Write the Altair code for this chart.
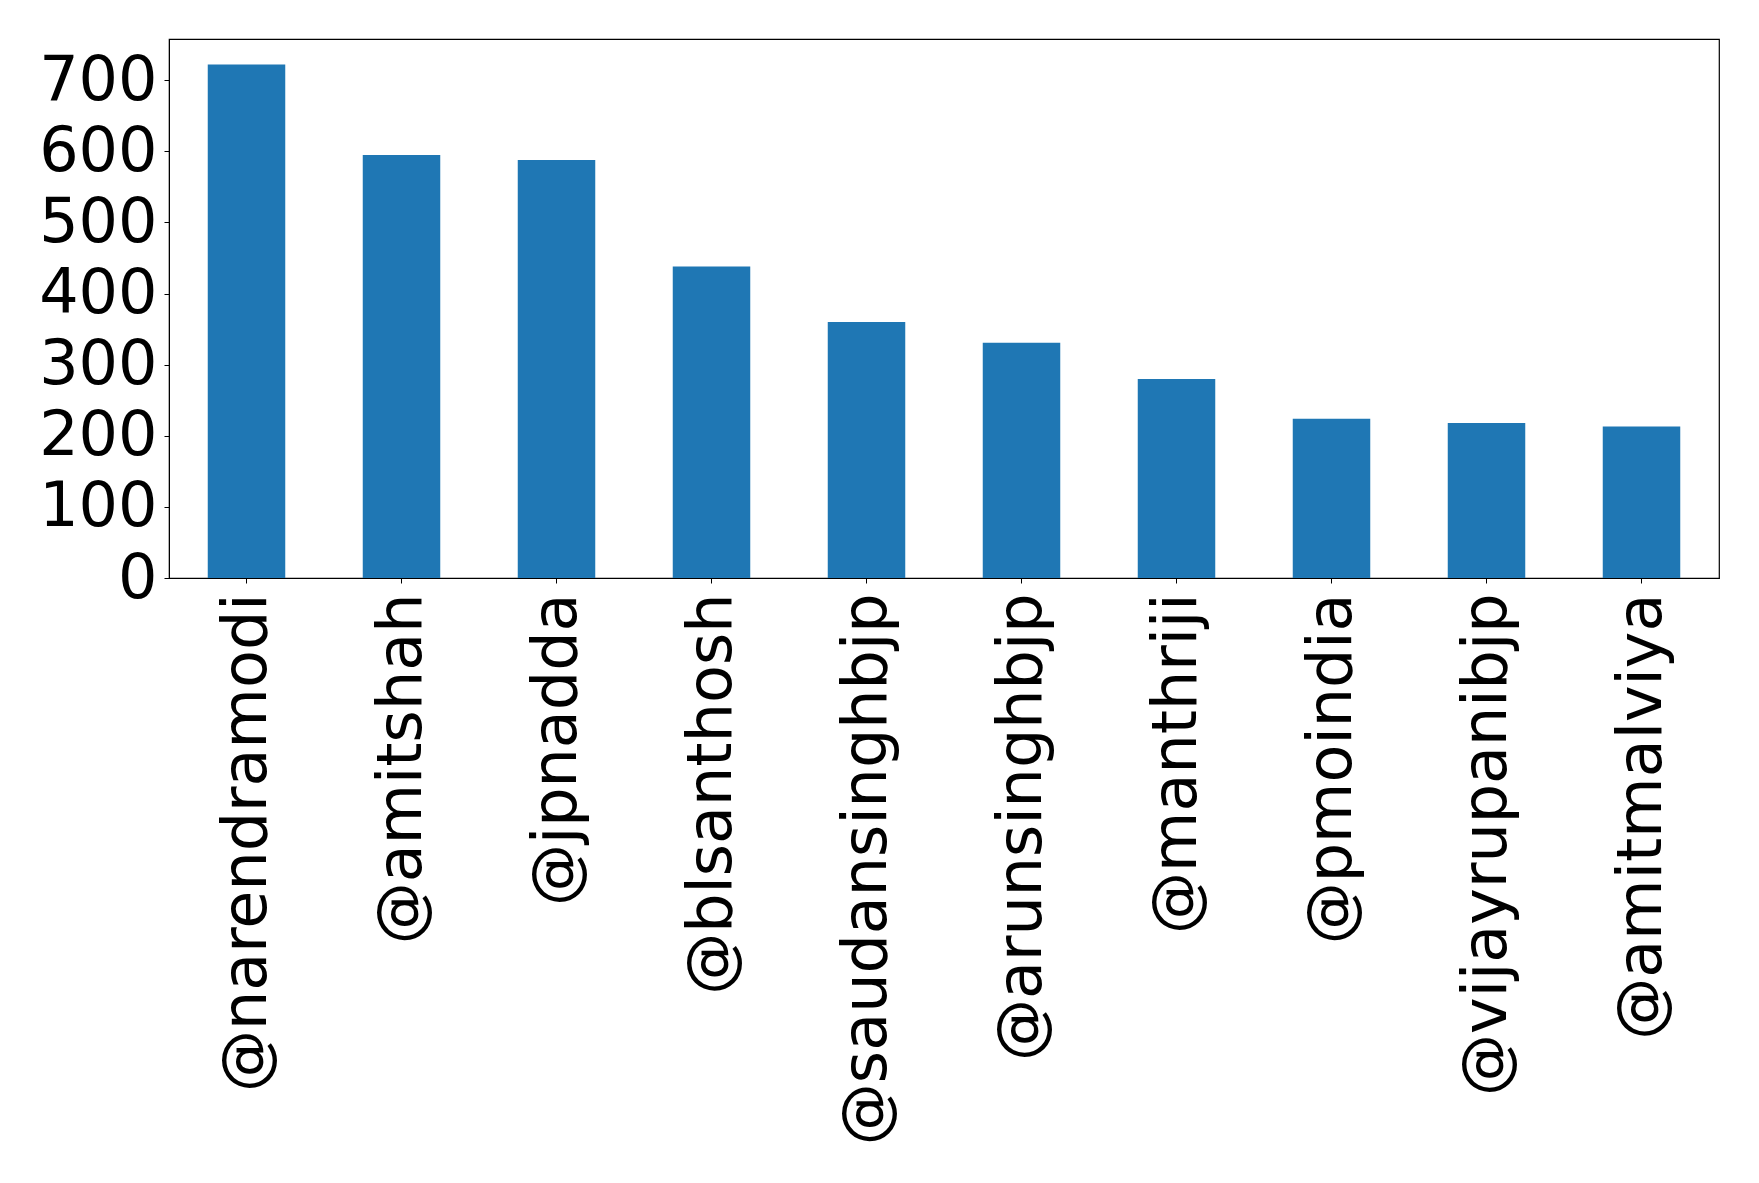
import altair as alt
import pandas as pd

handles = ["@narendramodi", "@amitshah", "@jpnadda", "@blsanthosh", "@saudansinghbjp",
           "@arunsinghbjp", "@manthriji", "@pmoindia", "@vijayrupanibjp", "@amitmalviya"]
counts = [722, 595, 588, 438, 360, 331, 280, 224, 218, 213]
y_ticks = [0, 100, 200, 300, 400, 500, 600, 700]

df = pd.DataFrame({"handle": handles, "count": counts})

chart = alt.Chart(df).mark_bar(color="#1f77b4").encode(
    x=alt.X("handle:N", sort=handles, title=None,
            scale=alt.Scale(paddingInner=0.5, paddingOuter=0.25),
            axis=alt.Axis(labelAngle=270, labelAlign="right", labelBaseline="middle",
                          labelFont="DejaVu Sans", labelFontSize=62, labelColor="black",
                          labelPadding=10, tickSize=5, tickColor="black", domainColor="black",
                          labelLimit=0)),
    y=alt.Y("count:Q", title=None,
            scale=alt.Scale(domain=[0, 758], nice=False, zero=True),
            axis=alt.Axis(values=y_ticks, labelFont="DejaVu Sans", labelFontSize=62,
                          labelColor="black", labelPadding=7, tickSize=5, tickColor="black",
                          domainColor="black", grid=False, labelFlush=False)),
).properties(
    width=1550, height=539,
    autosize=alt.AutoSizeParams(type="none"),
    padding={"left": 161, "top": 31, "right": 32, "bottom": 590},
).configure_view(stroke="black", strokeWidth=1.2)

chart.save("out.html", embed_options={"renderer": "svg", "actions": False})
